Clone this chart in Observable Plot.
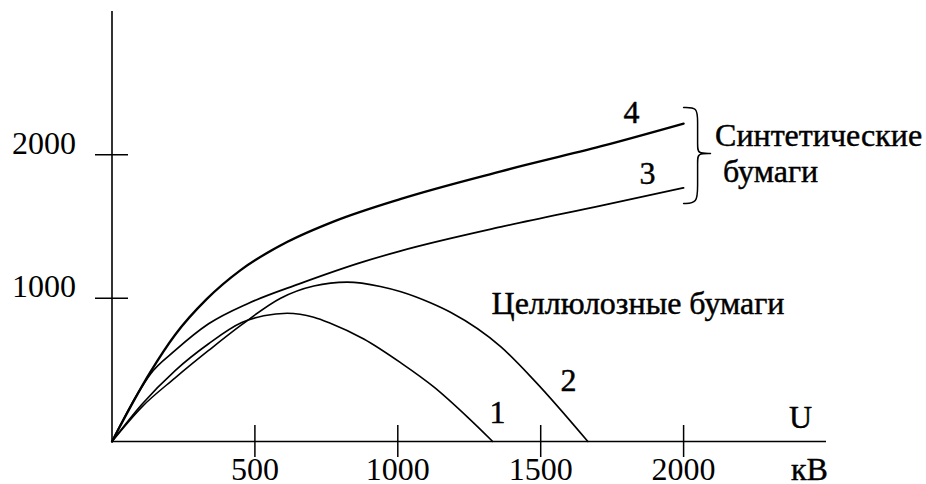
<!DOCTYPE html>
<html><head><meta charset="utf-8">
<script src="https://cdn.jsdelivr.net/npm/d3@7"></script>
<script src="https://cdn.jsdelivr.net/npm/@observablehq/plot@0.6"></script>
<style>
body{margin:0;background:#fff}
</style>
</head><body><div id="chart"></div>
<script>
// Tick values
const xTicks = [500, 1000, 1500, 2000];
const yTicks = [1000, 2000];

// Curves: U (kV) and value
const c1U = [0, 104, 221, 338, 454, 531, 613, 706, 764, 881, 1011, 1127, 1244, 1332];
const c1V = [0, 258, 495, 682, 830, 877, 895, 867, 825, 715, 548, 379, 170, 0];
const c2U = [0, 104, 221, 338, 454, 590, 706, 823, 939, 1011, 1114, 1186, 1361, 1478, 1665];
const c2V = [0, 240, 444, 635, 815, 1000, 1085, 1112, 1082, 1045, 968, 900, 660, 425, 0];
const c3U = [0, 90, 134, 221, 338, 478, 655, 881, 1011, 1361, 1712, 2000];
const c3V = [0, 335, 470, 635, 821, 965, 1100, 1255, 1330, 1497, 1646, 1770];
const c4U = [0, 134, 221, 332, 450, 614, 777, 1011, 1361, 1712, 2000];
const c4V = [0, 484, 745, 995, 1196, 1393, 1536, 1693, 1885, 2060, 2218];

// Annotations (anchored in data units)
const curveLabels = ["1", "2", "3", "4"];
const curveLabelU = [1349, 1597, 1874, 1818];
const curveLabelV = [202, 426, 1870, 2295];
const groupLabels = ["Целлюлозные бумаги", "Синтетические", "бумаги"];
const groupLabelU = [1328, 2110, 2138];
const groupLabelV = [963, 2135, 1884];
const axisNames = ["U", "кВ"];
const axisNameU = [2409, 2440];
const axisNameV = [167, -195];
const braceU = [2000, 2049, 2049, 2049, 2049, 2094, 2094, 2094, 2049, 2049, 2049, 2049, 2000];
const braceV = [2331, 2331, 2240, 2059, 2010, 2010, 2010, 2010, 2010, 1961, 1780, 1661, 1661];

const toRows = (U, V) => U.map((u, i) => ({u, v: V[i]}));
const curves = [
  {rows: toRows(c1U, c1V), w: 1.6},
  {rows: toRows(c2U, c2V), w: 1.6},
  {rows: toRows(c3U, c3V), w: 1.7},
  {rows: toRows(c4U, c4V), w: 2.3}
];
const lbl = (T, U, V) => T.map((t, i) => ({t, u: U[i], v: V[i]}));
const font = "Liberation Serif";
const fs = 32;
const txt = {fontSize: fs, fontFamily: font, fill: "#000", stroke: "#000", strokeWidth: 0.45};

const chart = Plot.plot({
  width: 926,
  height: 484,
  marginLeft: 111.5,
  marginRight: 100,
  marginTop: 11,
  marginBottom: 43,
  x: {domain: [0, 2500]},
  y: {domain: [0, 3000]},
  style: {fontFamily: font, fontSize: fs + "px", background: "#fff", color: "#000", overflow: "visible"},
  marks: [
    Plot.ruleY([0], {strokeWidth: 1.6}),
    Plot.ruleX([0], {strokeWidth: 1.6}),
    Plot.axisX(xTicks, {tickSize: 32, dy: -16, strokeWidth: 1.5, tickFormat: () => "", label: null}),
    Plot.axisX(xTicks, {tickSize: 0, tickPadding: 16, tickFormat: d => String(d), label: null, ...txt}),
    Plot.axisY(yTicks, {tickSize: 33, dx: 16.5, strokeWidth: 1.5, tickFormat: () => "", label: null}),
    Plot.axisY(yTicks, {tickSize: 0, tickPadding: 36, dy: -11, tickFormat: d => String(d), label: null, ...txt}),
    ...curves.map(c => Plot.line(c.rows, {x: "u", y: "v", curve: "monotone-x", stroke: "#000", strokeWidth: c.w})),
    Plot.line(toRows(braceU, braceV), {x: "u", y: "v", curve: "basis", stroke: "#000", strokeWidth: 1.5}),
    Plot.text(lbl(curveLabels, curveLabelU, curveLabelV), {x: "u", y: "v", text: "t", ...txt}),
    Plot.text(lbl(groupLabels, groupLabelU, groupLabelV), {x: "u", y: "v", text: "t", textAnchor: "start", ...txt}),
    Plot.text(lbl(axisNames, axisNameU, axisNameV), {x: "u", y: "v", text: "t", ...txt})
  ]
});
document.getElementById("chart").appendChild(chart);
</script>
</body></html>
